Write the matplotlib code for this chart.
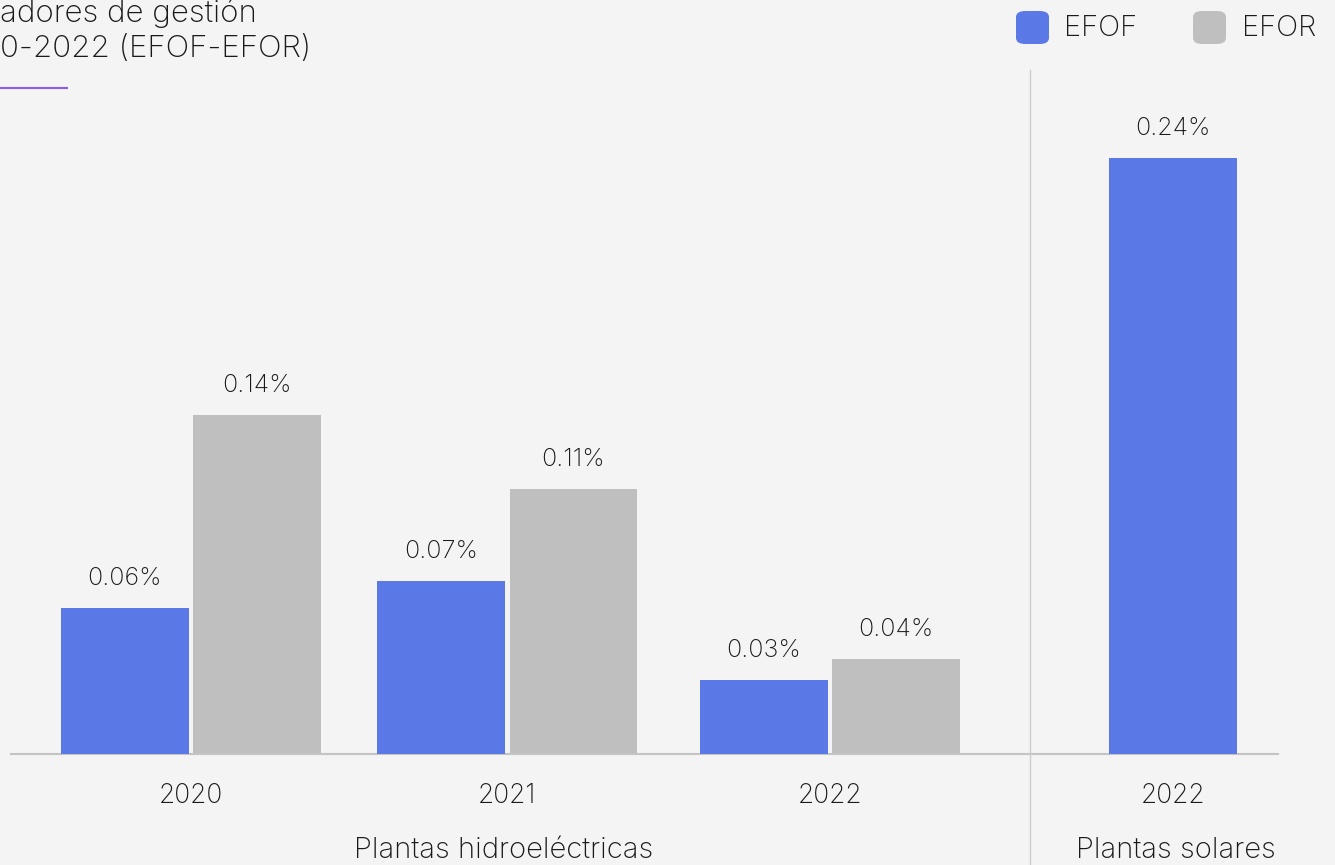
import matplotlib.pyplot as plt
from matplotlib.patches import FancyBboxPatch
from matplotlib.lines import Line2D

plt.rcParams['font.family'] = ['Inter', 'DejaVu Sans']
plt.rcParams['font.weight'] = 'light'

# datos (%)
hydro_years = ['2020', '2021', '2022']
efof_hydro = [0.0589, 0.0698, 0.0298]
efor_hydro = [0.1367, 0.1069, 0.0383]
solar_years = ['2022']
efof_solar = [0.2403]
series_names = ['EFOF', 'EFOR']

c_efof = '#5a78e6'
c_efor = '#bfbfbf'
bg = '#f4f4f4'
txt = '#1a1a1a'
W, H = 1335, 865

fig = plt.figure(figsize=(W / 100, H / 100), dpi=100, facecolor=bg)
ax = fig.add_axes([11 / W, (H - 754) / H, (1278 - 11) / W, (754 - 70) / H])
ax.set_facecolor(bg)

w = 0.4
off = 0.207
x_h = [0, 0.99, 2.0]
x_s = [3.074]

b1 = ax.bar([x - off for x in x_h], efof_hydro, w, color=c_efof, zorder=3)
b2 = ax.bar([x + off for x in x_h], efor_hydro, w, color=c_efor, zorder=2)
b3 = ax.bar(x_s, efof_solar, w, color=c_efof, zorder=3)

for bars in (b1, b2, b3):
    for r in bars:
        v = r.get_height()
        ax.annotate(f'{v:.2f}%', (r.get_x() + r.get_width() / 2, v),
                    xytext=(0, 21), textcoords='offset points',
                    ha='center', va='center', fontsize=18, color=txt)

ax.set_xlim((11 - 191) / 319.5, (1278 - 191) / 319.5)
ax.set_ylim(0, (754 - 70) / 2480)
ax.set_yticks([])
ax.set_xticks(x_h + x_s)
ax.set_xticklabels(hydro_years + solar_years, fontsize=19, color=txt)
ax.tick_params(axis='x', length=0, pad=21)
for s in ['top', 'right', 'left']:
    ax.spines[s].set_visible(False)
ax.spines['bottom'].set_color('#c4c4c4')
ax.spines['bottom'].set_linewidth(1.5)
ax.spines['bottom'].set_zorder(2.5)

# separador
fig.add_artist(Line2D([1030 / W, 1030 / W], [0, (H - 70) / H],
                      color='#cccccc', lw=1))

fig.text(504 / W, 1 - 850 / H, 'Plantas hidroeléctricas', ha='center',
         va='center', fontsize=21, color=txt)
fig.text(1176 / W, 1 - 850 / H, 'Plantas solares', ha='center',
         va='center', fontsize=21, color=txt)

# título (solo la parte visible)
fig.text(0, 1 - 13 / H, 'adores de gestión', ha='left',
         va='center', fontsize=22.5, color=txt)
fig.text(0, 1 - 49 / H, '0-2022 (EFOF-EFOR)', ha='left',
         va='center', fontsize=22.5, color=txt)
fig.add_artist(Line2D([0, 67 / W], [1 - 88 / H, 1 - 88 / H],
                      color='#8c5cf0', lw=1.5))

# leyenda
for name, col, x0, xt in zip(series_names, [c_efof, c_efor], [1016, 1193], [1064, 1242]):
    fig.add_artist(FancyBboxPatch((x0 / W, 1 - 44 / H), 33 / W, 33 / H,
                                  boxstyle='round,pad=0,rounding_size=0.007',
                                  transform=fig.transFigure, color=col, lw=0))
    fig.text(xt / W, 1 - 28 / H, name, ha='left', va='center',
             fontsize=21, color=txt)

fig.savefig('out.png', dpi=100, facecolor=bg)
